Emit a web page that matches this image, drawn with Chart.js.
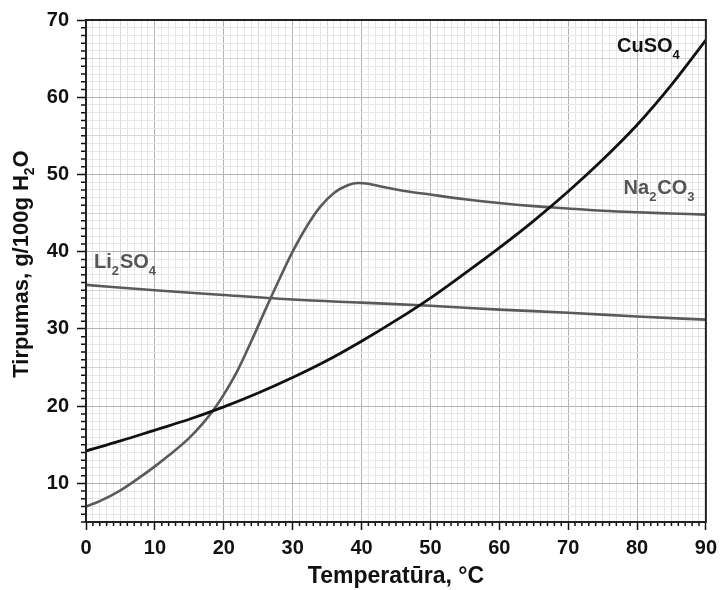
<!DOCTYPE html>
<html><head><meta charset="utf-8">
<script src="https://cdn.jsdelivr.net/npm/chart.js@4.4.0/dist/chart.umd.min.js"></script>
<style>html,body{margin:0;padding:0;background:#fff;}#wrap{width:723px;height:590px;}</style>
</head><body><div id="wrap"><canvas id="c" width="723" height="590"></canvas></div>
<script>
// ---- data ----
const cuso4Temp = [0,5,10,15,20,25,30,35,40,45,50,55,60,65,70,75,80,85,90];
const cuso4Sol  = [14.2,15.5,16.9,18.3,19.9,21.7,23.7,25.9,28.4,31.1,34.0,37.2,40.5,44.0,47.8,51.9,56.4,61.6,67.4];
const na2co3Temp = [0,2,5,8,10,12,15,17,18.5,20,22,24,26,28,30,32,34,36,38,39.5,41,43,46,50,55,60,65,70,75,80,85,90];
const na2co3Sol  = [7.0,7.7,9.1,10.9,12.2,13.6,15.9,17.8,19.5,21.5,24.6,28.4,32.4,36.3,40.0,43.2,45.8,47.6,48.6,48.9,48.8,48.4,47.9,47.4,46.8,46.3,45.9,45.6,45.3,45.1,44.95,44.8];
const li2so4Temp = [0,10,20,30,40,50,60,70,80,90];
const li2so4Sol  = [35.7,35.0,34.4,33.8,33.4,33.0,32.5,32.1,31.6,31.2];
const xTickLabels = [0,10,20,30,40,50,60,70,80,90];
const yTickLabels = [10,20,30,40,50,60,70];
const seriesNames = [['CuSO','4'],['Na','2','CO','3'],['Li','2','SO','4']];
const labelPos = [[77.1,65.8],[78.05,47.5],[1.15,37.9]];

const FONT = '"Liberation Sans", Arial, sans-serif';
const pts = (xs, ys) => xs.map((x,i)=>({x, y: ys[i]}));

const decor = {
  id:'decor',
  afterDraw(chart){
    const {ctx, chartArea:a, scales:{x,y}} = chart;
    ctx.save();
    // minor ticks
    ctx.strokeStyle='#111'; ctx.lineWidth=1.5;
    ctx.beginPath();
    for(let v=x.min; v<=x.max; v++){ if(xTickLabels.includes(v)) continue;
      const px=x.getPixelForValue(v); ctx.moveTo(px,a.bottom); ctx.lineTo(px,a.bottom+4);}
    for(let v=y.min; v<=y.max; v++){ if(yTickLabels.includes(v)) continue;
      const py=y.getPixelForValue(v); ctx.moveTo(a.left,py); ctx.lineTo(a.left-5,py);}
    ctx.stroke();
    // frame
    ctx.strokeStyle='#222'; ctx.lineWidth=2;
    ctx.strokeRect(a.left,a.top,a.right-a.left,a.bottom-a.top);
    // series labels with subscripts
    const colors=['#111','#555','#555'];
    seriesNames.forEach((parts,i)=>{
      let px=x.getPixelForValue(labelPos[i][0]); const py=y.getPixelForValue(labelPos[i][1]);
      ctx.fillStyle=colors[i]; ctx.textBaseline='alphabetic'; ctx.textAlign='left';
      parts.forEach((t,k)=>{
        const sub = k%2===1;
        ctx.font = (sub?'bold 13px ':'bold 20px ')+FONT;
        ctx.fillText(t,px,py+(sub?7:0)); px+=ctx.measureText(t).width+(sub?1:0);
      });
    });
    // y axis title
    ctx.translate(28, (a.top+a.bottom)/2-7);
    ctx.rotate(-Math.PI/2);
    ctx.fillStyle='#111';
    const p1='Tirpumas, g/100g H', p2='2', p3='O';
    ctx.font='bold 22px '+FONT; const w1=ctx.measureText(p1).width, w3=ctx.measureText(p3).width;
    ctx.font='bold 14px '+FONT; const w2=ctx.measureText(p2).width;
    let sx=-(w1+w2+w3)/2;
    ctx.font='bold 22px '+FONT; ctx.fillText(p1,sx,0); sx+=w1;
    ctx.font='bold 14px '+FONT; ctx.fillText(p2,sx,6); sx+=w2;
    ctx.font='bold 22px '+FONT; ctx.fillText(p3,sx,0);
    ctx.restore();
  }
};

const gridColor = c => { const v=c.tick.value; return v%10===0?'#b4b4b4':(v%5===0?'#d6d6d6':'#e6e6e6'); };

new Chart(document.getElementById('c'),{
  type:'line',
  data:{datasets:[
    {label:'CuSO4', data:pts(cuso4Temp,cuso4Sol), borderColor:'#111', borderWidth:2.8, pointRadius:0, cubicInterpolationMode:'monotone', fill:false},
    {label:'Na2CO3', data:pts(na2co3Temp,na2co3Sol), borderColor:'#5a5a5a', borderWidth:2.6, pointRadius:0, cubicInterpolationMode:'monotone', fill:false},
    {label:'Li2SO4', data:pts(li2so4Temp,li2so4Sol), borderColor:'#5a5a5a', borderWidth:2.6, pointRadius:0, cubicInterpolationMode:'monotone', fill:false}
  ]},
  options:{
    responsive:false, animation:false, devicePixelRatio:1,
    layout:{padding:{top:17,right:12,left:0,bottom:0}},
    plugins:{legend:{display:false}, tooltip:{enabled:false}},
    scales:{
      x:{type:'linear', min:0, max:90,
        afterFit:s=>{s.height=68;},
        grid:{color:gridColor, lineWidth:1, tickLength:8, tickWidth:1.5, tickColor:c=>xTickLabels.includes(c.tick.value)?'#111':'rgba(0,0,0,0)'},
        border:{display:true,color:'#222',width:2},
        ticks:{stepSize:1, autoSkip:false, maxTicksLimit:200, maxRotation:0, padding:6, color:'#111',
          font:{family:FONT,size:20,weight:'bold'},
          callback:v=>xTickLabels.includes(v)?String(v):''},
        title:{display:true, text:'Temperatūra, °C', color:'#111', font:{family:FONT,size:23,weight:'bold'}, padding:{top:0,bottom:0}}
      },
      y:{type:'linear', min:5, max:70,
        afterFit:s=>{s.width=86;},
        grid:{color:gridColor, lineWidth:1, tickLength:9, tickWidth:1.5, tickColor:c=>yTickLabels.includes(c.tick.value)?'#111':'rgba(0,0,0,0)'},
        border:{display:true,color:'#222',width:2},
        ticks:{stepSize:1, autoSkip:false, maxTicksLimit:200, padding:8, color:'#111',
          font:{family:FONT,size:20,weight:'bold'},
          callback:v=>yTickLabels.includes(v)?String(v):''}
      }
    }
  },
  plugins:[decor]
});
</script></body></html>
